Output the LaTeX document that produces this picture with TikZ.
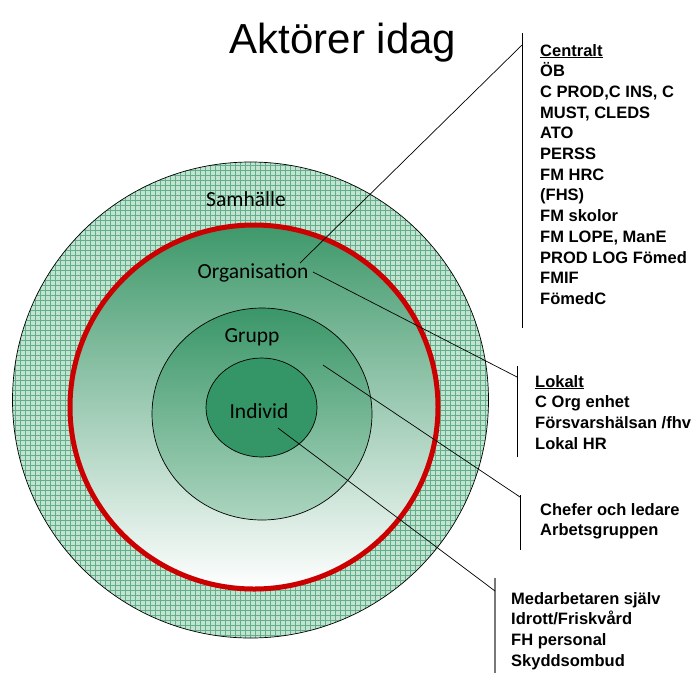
\documentclass[tikz,border=0pt]{standalone}
\usepackage{fontspec}
\setmainfont{Liberation Sans}
\newfontfamily\calfont{Carlito}
\usetikzlibrary{calc}
\definecolor{ringgreen}{RGB}{194,227,209}
\definecolor{gridgreen}{RGB}{98,174,136}
\definecolor{orggreen}{RGB}{62,152,106}
\definecolor{orgmid}{RGB}{148,195,168}
\definecolor{gruppgreen}{RGB}{58,150,104}
\definecolor{gruppbot}{RGB}{172,213,191}
\definecolor{indgreen}{RGB}{52,150,102}
\definecolor{ringred}{RGB}{204,0,0}
\definecolor{brgray}{RGB}{120,120,120}
\tikzset{
  circlabel/.style={font=\calfont\fontsize{21.5}{26}\selectfont, anchor=base, inner sep=0pt},
  listtxt/.style={font=\bfseries\fontsize{16.5}{20}\selectfont, anchor=base west, inner sep=0pt},
  bracket/.style={line width=0.9pt, draw=black},
  leader/.style={line width=0.7pt, draw=black},
  gridline/.style={line width=0.45pt, draw=gridgreen},
}

\begin{document}
\begin{tikzpicture}[x=1pt, y=-1pt]
  \useasboundingbox (0,0) rectangle (695,673);
  % Samhälle ring
  \fill[ringgreen] (250.5,400) circle (238);
  \begin{scope}
    \clip (250.5,400) circle (238);
    \foreach \g in {0,5,...,500} {
      \draw[gridline] (\g,150) -- (\g,650);
      \draw[gridline] (0,\g+150) -- (500,\g+150);
    }
  \end{scope}
  \draw[line width=0.7pt] (250.5,400) circle (238);
  % Organisation, Grupp, Individ
  \draw[line width=5pt, draw=ringred, top color=orggreen, middle color=orgmid, bottom color=white] (254,407) ellipse (184 and 182);
  \draw[line width=0.7pt, top color=gruppgreen, bottom color=gruppbot] (262,414) ellipse (110 and 106);
  \draw[line width=0.7pt, fill=indgreen] (261.5,407.5) ellipse (55.5 and 49.5);

  \node[circlabel] (samh) at (246,206) {Samhälle};
  \node[circlabel] (org) at (253,278) {Organisation};
  \node[circlabel] (grupp) at (252,342) {Grupp};
  \node[circlabel] (indiv) at (259,418) {Individ};

  \node[font=\fontsize{42}{48}\selectfont, anchor=base, inner sep=0pt] (title) at (343,53) {Aktörer idag};

  % text lists
  \foreach \t [count=\i from 0] in {\underline{Centralt}, ÖB, {C PROD,C INS, C}, {MUST, CLEDS}, ATO, PERSS, FM HRC, (FHS), FM skolor, {FM LOPE, ManE}, PROD LOG Fömed, FMIF, FömedC}
    \node[listtxt] (cen\i) at (540,56+20.7*\i) {\t};
  \foreach \t [count=\i from 0] in {\underline{Lokalt}, C Org enhet, Försvarshälsan /fhv, Lokal HR}
    \node[listtxt] (lok\i) at (535,387+20.7*\i) {\t};
  \foreach \t [count=\i from 0] in {Chefer och ledare, Arbetsgruppen}
    \node[listtxt] (chef\i) at (540,515+20.7*\i) {\t};
  \foreach \t [count=\i from 0] in {Medarbetaren själv, Idrott/Friskvård, FH personal, Skyddsombud}
    \node[listtxt] (med\i) at (511,604+20.7*\i) {\t};

  % brackets
  \coordinate (cenTop) at (522,33);  \coordinate (cenBot) at (522,328);
  \coordinate (lokTop) at (517,366); \coordinate (lokBot) at (517,457);
  \coordinate (chefTop) at (520,495); \coordinate (chefBot) at (520,550);
  \coordinate (medTop) at (495,578); \coordinate (medBot) at (495,673);
  \draw[bracket] (cenTop) -- (cenBot);
  \draw[bracket] (lokTop) -- (lokBot);
  \draw[bracket] (chefTop) -- (chefBot);
  \draw[bracket, draw=brgray, line width=1.3pt] (medTop) -- (medBot);

  % leaders
  \coordinate (orgA) at (300,263);  \coordinate (cenHook) at (522,45);
  \coordinate (orgB) at (313,272);  \coordinate (lokHook) at (517,377);
  \coordinate (gruppA) at (323,365); \coordinate (chefHook) at (520,497);
  \coordinate (indivA) at (278,428); \coordinate (medHook) at (495,591);
  \draw[leader] (orgA) -- (cenHook);
  \draw[leader] (orgB) -- (lokHook);
  \draw[leader] (gruppA) -- (chefHook);
  \draw[leader] (indivA) -- (medHook);
\end{tikzpicture}
\end{document}
